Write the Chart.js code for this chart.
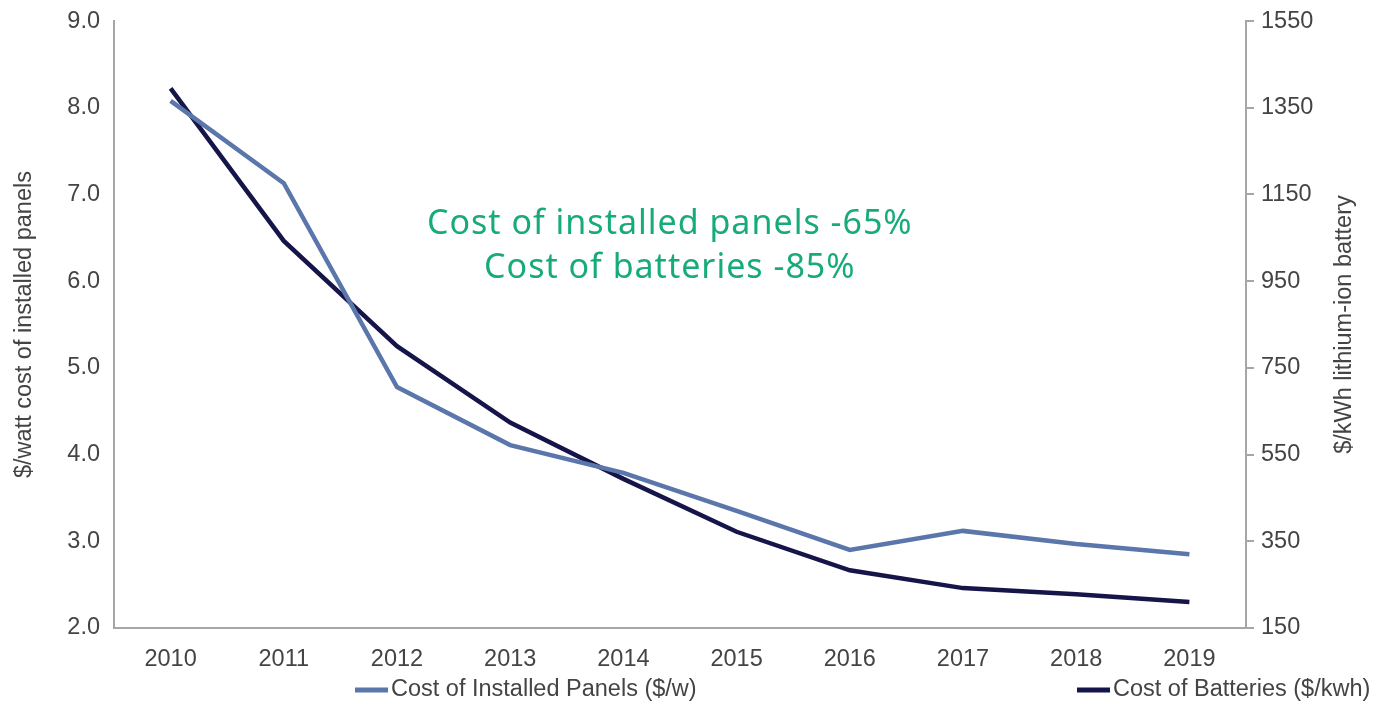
<!DOCTYPE html>
<html>
<head>
<meta charset="utf-8">
<script src="https://cdn.jsdelivr.net/npm/chart.js@4"></script>
<style>
  body { margin: 0; background: #fff; }
  #wrap { width: 1376px; height: 701px; position: relative; }
</style>
</head>
<body>
<div id="wrap"><canvas id="costChart"></canvas></div>
<script>
const years = ["2010", "2011", "2012", "2013", "2014", "2015", "2016", "2017", "2018", "2019"];
const panelCost = [8.08, 7.13, 4.78, 4.11, 3.79, 3.35, 2.90, 3.12, 2.97, 2.85];
const batteryCost = [1395, 1043, 800, 624, 494, 372, 283, 242, 228, 210];
const panelTicks = [2, 9, 1];
const batteryTicks = [150, 1550, 200];
const notes = ["Cost of installed panels -65%", "Cost of batteries -85%"];

const tickFont = { family: "Liberation Sans, Arial, sans-serif", size: 23.5 };
const axisGrey = "#a6a6a6";
const textGrey = "#444";

// right title reads bottom-to-top, so it is drawn here instead of by the scale
const extras = {
    id: "extras",
    afterDraw(chart) {
        const ctx = chart.ctx;
        const area = chart.chartArea;
        const y2 = chart.scales.y2;
        ctx.save();

        ctx.fillStyle = textGrey;
        ctx.font = "23.5px Liberation Sans, Arial, sans-serif";
        ctx.textAlign = "center";
        ctx.textBaseline = "middle";
        ctx.translate(y2.right - 31, (area.top + area.bottom) / 2);
        ctx.rotate(-Math.PI / 2);
        ctx.fillText("$/kWh lithium-ion battery", 0, 0);
        ctx.setTransform(1, 0, 0, 1, 0, 0);

        // legend
        const spots = [355, 1077];
        const ly = 690;
        chart.data.datasets.forEach((ds, i) => {
            ctx.strokeStyle = ds.borderColor;
            ctx.lineWidth = 5;
            ctx.beginPath();
            ctx.moveTo(spots[i], ly);
            ctx.lineTo(spots[i] + 33, ly);
            ctx.stroke();
            ctx.fillStyle = textGrey;
            ctx.textAlign = "left";
            ctx.fillText(ds.label, spots[i] + 36, ly);
        });

        // annotation
        const y = chart.scales.y;
        ctx.fillStyle = "#17ab7c";
        ctx.font = "34px 'Noto Sans', sans-serif";
        ctx.letterSpacing = "1px";
        ctx.textAlign = "center";
        const cx = area.left + 0.491 * (area.right - area.left);
        ctx.fillText(notes[0], cx, y.getPixelForValue(6.66));
        ctx.fillText(notes[1], cx, y.getPixelForValue(6.15));
        ctx.restore();
    }
};

new Chart(document.getElementById("costChart"), {
    type: "line",
    data: {
        labels: years,
        datasets: [{
            label: "Cost of Installed Panels ($/w)",
            data: panelCost,
            yAxisID: "y",
            borderColor: "#5a76ab",
            borderWidth: 4.5,
            pointRadius: 0,
            tension: 0
        }, {
            label: "Cost of Batteries ($/kwh)",
            data: batteryCost,
            yAxisID: "y2",
            borderColor: "#16154a",
            borderWidth: 4.5,
            pointRadius: 0,
            tension: 0
        }]
    },
    options: {
        responsive: true,
        maintainAspectRatio: false,
        animation: false,
        layout: { padding: { top: 5, bottom: 35, left: 0, right: 0 } },
        plugins: {
            legend: { display: false },
            tooltip: { enabled: false }
        },
        scales: {
            x: {
                offset: true,
                grid: { display: false },
                border: { display: true, color: axisGrey, width: 2 },
                ticks: { font: tickFont, color: textGrey, padding: 9, maxRotation: 0 },
                afterFit: s => { s.height = 38; }
            },
            y: {
                position: "left",
                min: panelTicks[0],
                max: panelTicks[1],
                grid: { display: false },
                border: { display: true, color: axisGrey, width: 2 },
                ticks: {
                    stepSize: panelTicks[2],
                    font: tickFont,
                    color: textGrey,
                    padding: 6,
                    callback: v => v.toFixed(1)
                },
                title: {
                    display: true,
                    text: "$/watt cost of installed panels",
                    font: tickFont,
                    color: textGrey,
                    padding: { top: 10, bottom: 0 }
                },
                afterFit: s => { s.width = 114; }
            },
            y2: {
                position: "right",
                min: batteryTicks[0],
                max: batteryTicks[1],
                grid: { drawOnChartArea: false, drawTicks: true, tickLength: 8, color: axisGrey, lineWidth: 2 },
                border: { display: true, color: axisGrey, width: 2 },
                ticks: {
                    stepSize: batteryTicks[2],
                    font: tickFont,
                    color: textGrey,
                    padding: 7,
                    callback: v => String(v)
                },
                afterFit: s => { s.width = 130; }
            }
        }
    },
    plugins: [extras]
});
</script>
</body>
</html>
